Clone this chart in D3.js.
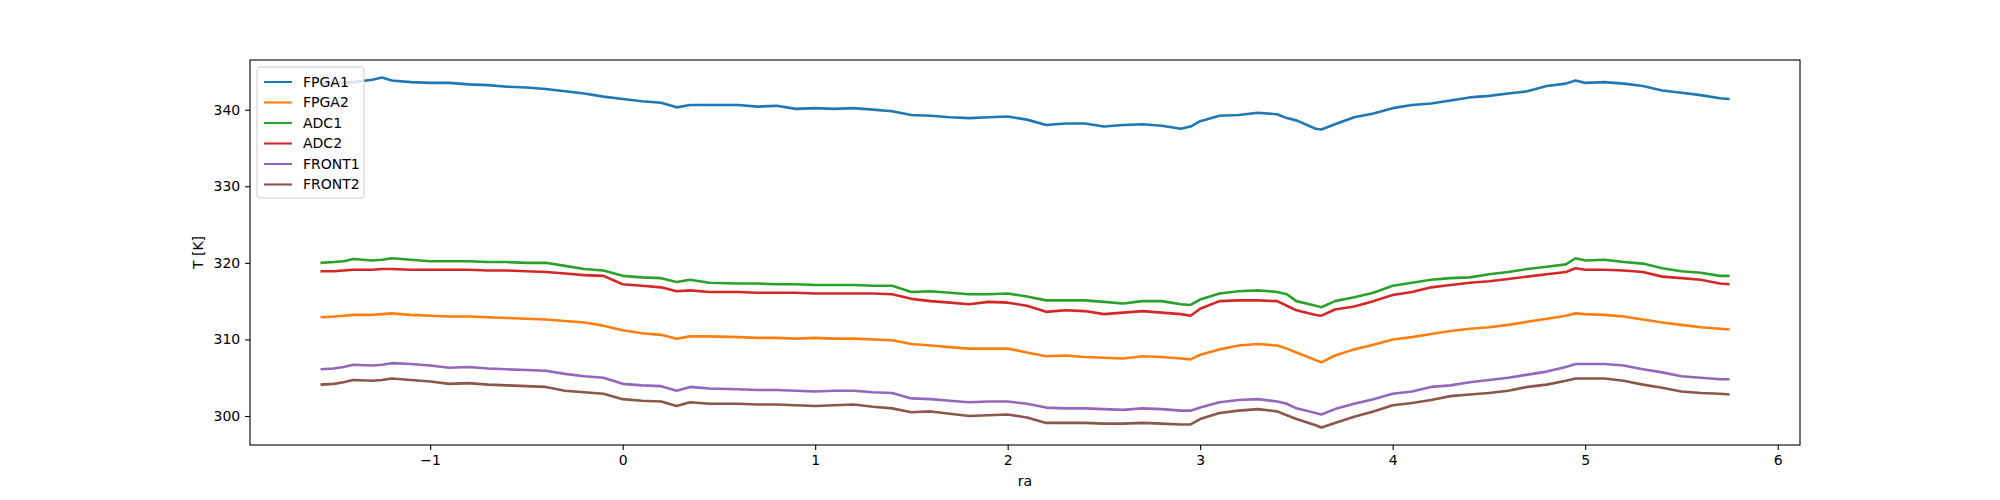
<!DOCTYPE html>
<html lang="en">
<head>
  <meta charset="utf-8">
  <script src="https://d3js.org/d3.v7.min.js"></script>
  <style>
    body { margin: 0; background: #fff; }
    text { font-family: "DejaVu Sans", sans-serif; }
  </style>
</head>
<body>
<script>
  // temperatures vs ra, six sensors

  const ra = [-1.57,-1.5,-1.45,-1.4,-1.3,-1.25,-1.2,-1.1,-1.0,-0.9,-0.8,-0.7,-0.6,-0.5,-0.4,-0.3,-0.2,-0.1,
    0.0,0.1,0.2,0.28,0.35,0.45,0.6,0.7,0.8,0.9,1.0,1.1,1.2,1.3,1.4,1.5,1.6,1.7,1.8,1.9,2.0,2.1,2.2,2.3,2.4,
    2.5,2.6,2.7,2.8,2.9,2.95,3.0,3.1,3.2,3.3,3.4,3.45,3.5,3.6,3.63,3.7,3.8,3.9,4.0,4.1,4.2,4.3,4.4,4.5,4.6,
    4.7,4.8,4.9,4.95,5.0,5.1,5.2,5.3,5.4,5.5,5.6,5.7,5.75];

  const fpga1 = [343.4,343.5,343.5,343.6,343.9,344.2,343.8,343.6,343.5,343.5,343.3,343.2,343.0,342.9,342.7,342.4,342.1,341.7,
    341.4,341.1,340.9,340.3,340.6,340.6,340.6,340.4,340.5,340.1,340.2,340.1,340.2,340.0,339.8,339.3,339.2,339.0,338.9,339.0,339.1,338.7,338.0,338.2,338.2,
    337.8,338.0,338.1,337.9,337.5,337.8,338.5,339.2,339.3,339.6,339.4,338.9,338.6,337.5,337.4,338.1,339.0,339.5,340.2,340.6,340.8,341.2,341.6,341.8,342.1,
    342.4,343.1,343.4,343.8,343.5,343.6,343.4,343.1,342.5,342.2,341.9,341.5,341.4];

  const fpga2 = [312.9,313.0,313.1,313.2,313.2,313.3,313.4,313.2,313.1,313.0,313.0,312.9,312.8,312.7,312.6,312.4,312.2,311.8,
    311.2,310.8,310.6,310.1,310.4,310.4,310.3,310.2,310.2,310.1,310.2,310.1,310.1,310.0,309.9,309.4,309.2,309.0,308.8,308.8,308.8,308.3,307.8,307.9,307.7,
    307.6,307.5,307.8,307.7,307.5,307.4,308.0,308.7,309.2,309.4,309.2,308.8,308.3,307.3,307.0,307.9,308.7,309.3,310.0,310.3,310.7,311.1,311.4,311.6,311.9,
    312.3,312.7,313.1,313.4,313.3,313.2,313.0,312.6,312.2,311.9,311.6,311.4,311.3];

  const adc1 = [320.0,320.1,320.2,320.5,320.3,320.4,320.6,320.4,320.2,320.2,320.2,320.1,320.1,320.0,320.0,319.6,319.2,319.0,
    318.3,318.1,318.0,317.5,317.8,317.4,317.3,317.3,317.2,317.2,317.1,317.1,317.1,317.0,317.0,316.2,316.3,316.1,315.9,315.9,316.0,315.6,315.1,315.1,315.1,
    314.9,314.7,315.0,315.0,314.6,314.5,315.2,316.0,316.3,316.4,316.2,315.9,315.0,314.4,314.2,315.0,315.5,316.1,317.0,317.4,317.8,318.0,318.1,318.5,318.8,
    319.2,319.5,319.8,320.6,320.3,320.4,320.1,319.9,319.3,318.9,318.7,318.3,318.3];

  const adc2 = [318.9,318.9,319.0,319.1,319.1,319.2,319.2,319.1,319.1,319.1,319.1,319.0,319.0,318.9,318.8,318.6,318.4,318.3,
    317.2,317.0,316.8,316.3,316.4,316.2,316.2,316.1,316.1,316.1,316.0,316.0,316.0,316.0,315.9,315.3,315.0,314.8,314.6,314.9,314.8,314.4,313.6,313.8,313.7,
    313.3,313.5,313.7,313.5,313.3,313.1,314.0,315.0,315.1,315.1,315.0,314.4,313.8,313.2,313.1,313.9,314.3,315.0,315.8,316.2,316.8,317.1,317.4,317.6,317.9,
    318.2,318.5,318.8,319.3,319.1,319.1,319.0,318.8,318.2,318.0,317.8,317.3,317.2];

  const front1 = [306.1,306.2,306.4,306.7,306.6,306.7,306.9,306.8,306.6,306.3,306.4,306.2,306.1,306.0,305.9,305.5,305.2,305.0,
    304.2,304.0,303.9,303.3,303.8,303.6,303.5,303.4,303.4,303.3,303.2,303.3,303.3,303.1,303.0,302.3,302.2,302.0,301.8,301.9,301.9,301.6,301.1,301.0,301.0,
    300.9,300.8,301.0,300.9,300.7,300.7,301.1,301.8,302.1,302.2,301.9,301.6,301.0,300.4,300.2,300.9,301.6,302.2,302.9,303.2,303.8,304.0,304.4,304.7,305.0,
    305.4,305.8,306.4,306.8,306.8,306.8,306.6,306.1,305.7,305.2,305.0,304.8,304.8];

  const front2 = [304.1,304.2,304.4,304.7,304.6,304.7,304.9,304.7,304.5,304.2,304.3,304.1,304.0,303.9,303.8,303.3,303.1,302.9,
    302.2,302.0,301.9,301.3,301.8,301.6,301.6,301.5,301.5,301.4,301.3,301.4,301.5,301.2,301.0,300.5,300.6,300.3,300.0,300.1,300.2,299.8,299.1,299.1,299.1,
    299.0,299.0,299.1,299.0,298.9,298.9,299.6,300.4,300.7,300.9,300.6,300.1,299.6,298.8,298.5,299.1,299.9,300.6,301.4,301.7,302.1,302.6,302.8,303.0,303.3,
    303.8,304.1,304.6,304.9,304.9,304.9,304.6,304.1,303.7,303.2,303.0,302.9,302.8];

  const names = ["FPGA1", "FPGA2", "ADC1", "ADC2", "FRONT1", "FRONT2"];
  const colors = ["#1f77b4", "#ff7f0e", "#2ca02c", "#d62728", "#9467bd", "#8c564b"];
  const xTicks = [-1, 0, 1, 2, 3, 4, 5, 6];
  const yTicks = [300, 310, 320, 330, 340];

  const seriesValues = [fpga1, fpga2, adc1, adc2, front1, front2];
  const series = names.map((n, i) => ({
    name: n, color: colors[i],
    points: ra.map((r, j) => ({x: r, y: seriesValues[i][j]}))
  }));

  const W = 2000, H = 500;
  const mLeft = 250, mTop = 60, pw = 1550, ph = 385;

  // matplotlib style 5% margins
  const xe = d3.extent(ra);
  const allY = seriesValues.flat();
  const ye = d3.extent(allY);
  const xp = (xe[1] - xe[0]) * 0.05, yp = (ye[1] - ye[0]) * 0.05;

  const x = d3.scaleLinear().domain([xe[0] - xp, xe[1] + xp]).range([0, pw]);
  const y = d3.scaleLinear().domain([ye[0] - yp, ye[1] + yp]).range([ph, 0]);

  const svg = d3.select("body").append("svg")
    .attr("width", W).attr("height", H);
  const g = svg.append("g").attr("transform", `translate(${mLeft},${mTop})`);

  const line = d3.line().x(d => x(d.x)).y(d => y(d.y));

  g.append("g").selectAll("path")
    .data(series)
    .enter().append("path")
    .attr("fill", "none")
    .attr("stroke", d => d.color)
    .attr("stroke-width", 2.6)
    .attr("stroke-linejoin", "round")
    .attr("d", d => line(d.points));

  // axes
  const xAxis = g.append("g")
    .attr("transform", `translate(0,${ph})`)
    .call(d3.axisBottom(x).tickValues(xTicks).tickSize(4.9).tickPadding(4.9)
      .tickFormat(d => d < 0 ? "\u2212" + Math.abs(d) : d));
  const yAxis = g.append("g")
    .call(d3.axisLeft(y).tickValues(yTicks).tickSize(4.9).tickPadding(4.9));
  [xAxis, yAxis].forEach(a => {
    a.select(".domain").remove();
    a.selectAll("line").attr("stroke", "#000").attr("stroke-width", 1.1);
    a.selectAll("text").attr("font-size", 14).attr("fill", "#000")
      .style("font-family", "DejaVu Sans, sans-serif");
  });

  g.append("rect")
    .attr("width", pw).attr("height", ph)
    .attr("fill", "none").attr("stroke", "#000").attr("stroke-width", 1.1);

  svg.append("text")
    .attr("x", mLeft + pw / 2).attr("y", 486)
    .attr("text-anchor", "middle").attr("font-size", 14)
    .text("ra");
  svg.append("text")
    .attr("transform", `translate(203,${mTop + ph / 2}) rotate(-90)`)
    .attr("text-anchor", "middle").attr("font-size", 14)
    .text("T [K]");

  // legend, upper left
  const lg = g.append("g").attr("transform", "translate(7,7)");
  lg.append("rect")
    .attr("width", 107).attr("height", 131)
    .attr("rx", 3)
    .attr("fill", "#fff").attr("fill-opacity", 0.8)
    .attr("stroke", "#ccc").attr("stroke-width", 1);
  const items = lg.selectAll("g.item")
    .data(series)
    .enter().append("g")
    .attr("class", "item")
    .attr("transform", (d, i) => `translate(0,${15 + i * 20.5})`);
  items.append("line")
    .attr("x1", 7).attr("x2", 35)
    .attr("stroke", d => d.color).attr("stroke-width", 2.1);
  items.append("text")
    .attr("x", 46).attr("dy", "0.35em")
    .attr("font-size", 14)
    .text(d => d.name);
</script>
</body>
</html>
